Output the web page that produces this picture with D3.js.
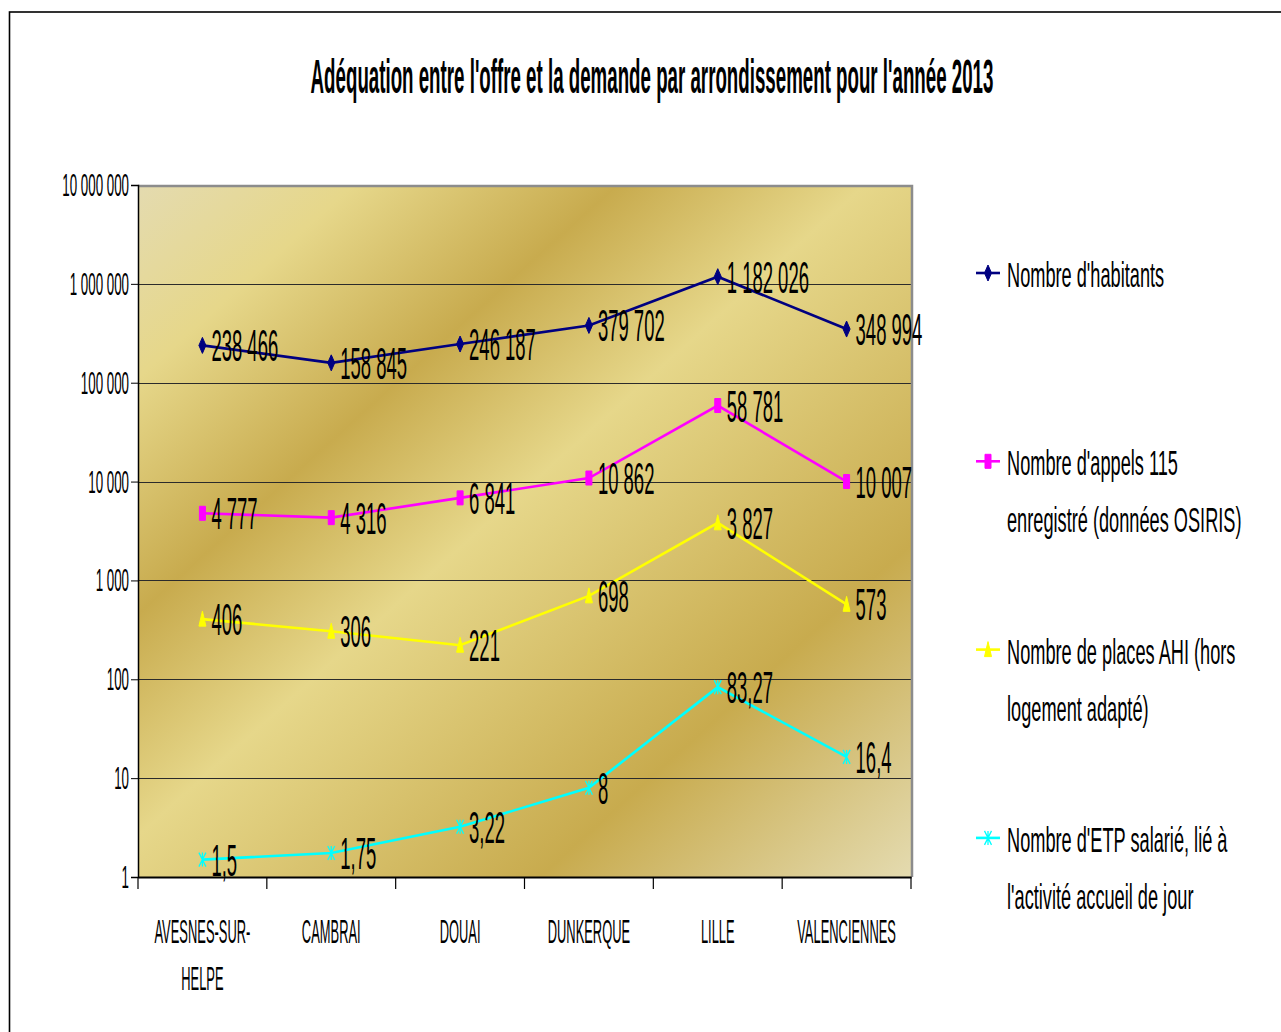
<!DOCTYPE html>
<html>
<head>
<meta charset="utf-8">
<script src="https://cdnjs.cloudflare.com/ajax/libs/d3/7.8.5/d3.min.js"></script>
<style>
  body { margin: 0; background: #fff; }
  text { font-family: "Liberation Sans", Arial, sans-serif; fill: #000; }
</style>
</head>
<body>
<div id="chart"></div>
<script>
// data
var categories = ["AVESNES-SUR-|HELPE", "CAMBRAI", "DOUAI", "DUNKERQUE", "LILLE", "VALENCIENNES"];
var habitants = [238466, 158845, 246187, 379702, 1182026, 348994];
var appels115 = [4777, 4316, 6841, 10862, 58781, 10007];
var placesAHI = [406, 306, 221, 698, 3827, 573];
var etpSalarie = [1.5, 1.75, 3.22, 8, 83.27, 16.4];
var seriesNames = [
  ["Nombre d'habitants"],
  ["Nombre d'appels 115", "enregistré (données OSIRIS)"],
  ["Nombre de places AHI (hors", "logement adapté)"],
  ["Nombre d'ETP salarié, lié à", "l'activité accueil de jour"]
];
var yTicks = [1, 10, 100, 1000, 10000, 100000, 1000000, 10000000];
var title = "Adéquation entre l'offre et la demande par arrondissement pour l'année 2013";

var series = [
  { name: seriesNames[0], values: habitants, color: "#000080", marker: "diamond" },
  { name: seriesNames[1], values: appels115, color: "#ff00ff", marker: "square" },
  { name: seriesNames[2], values: placesAHI, color: "#ffff00", marker: "triangle" },
  { name: seriesNames[3], values: etpSalarie, color: "#00ffff", marker: "star" }
];

var W = 1281, H = 1032;
var plot = { left: 138, top: 185, right: 911, bottom: 877 };

var fr = d3.formatLocale({ decimal: ",", thousands: " ", grouping: [3], currency: ["", " €"] });
var fmt = fr.format(",");

var svg = d3.select("#chart").append("svg")
    .attr("width", W)
    .attr("height", H);

// gold fill like the old excel preset
var defs = svg.append("defs");
var grad = defs.append("linearGradient")
    .attr("id", "gold")
    .attr("x1", 0).attr("y1", 0).attr("x2", 1).attr("y2", 1);
[[0, "#e4dbb0"], [0.14, "#e6d78a"], [0.31, "#c8ab4e"], [0.47, "#e6d78a"], [0.76, "#c8ab4e"], [1, "#e4dbb0"]]
  .forEach(function(s) {
    grad.append("stop").attr("offset", s[0]).attr("stop-color", s[1]);
  });

// outer frame
svg.append("rect")
    .attr("x", 9.5).attr("y", 12)
    .attr("width", W + 20).attr("height", H + 20)
    .attr("fill", "none")
    .attr("stroke", "#000")
    .attr("stroke-width", 1.6);

// squeezed text helper (the original fonts are very narrow)
function squeezed(g, x, y, str, size, sx, anchor, weight) {
  return g.append("text")
      .attr("transform", "translate(" + x + "," + y + ") scale(" + sx + ",1)")
      .attr("text-anchor", anchor || "start")
      .attr("font-size", size)
      .attr("font-weight", weight || "normal")
      .text(str);
}

squeezed(svg, 652, 93, title, 48, 0.39, "middle", "bold");

var x = d3.scaleBand()
    .domain(categories)
    .range([plot.left, plot.right]);
var y = d3.scaleLog()
    .domain([1, 1e7])
    .range([plot.bottom, plot.top]);

svg.append("rect")
    .attr("x", plot.left).attr("y", plot.top)
    .attr("width", plot.right - plot.left)
    .attr("height", plot.bottom - plot.top)
    .attr("fill", "url(#gold)");

// gridlines
svg.append("g")
    .selectAll("line")
    .data(yTicks.slice(1, -1))
  .enter().append("line")
    .attr("x1", plot.left).attr("x2", plot.right)
    .attr("y1", function(d) { return Math.round(y(d)) + 0.5; })
    .attr("y2", function(d) { return Math.round(y(d)) + 0.5; })
    .attr("stroke", "#2b2b2b")
    .attr("stroke-width", 1.2);

// plot border top/right (grey)
svg.append("path")
    .attr("d", "M" + plot.left + "," + (plot.top + 1) + "H" + (plot.right + 1) + "V" + plot.bottom)
    .attr("fill", "none")
    .attr("stroke", "#8c8c8c")
    .attr("stroke-width", 2.5);

// y axis
var yAxis = svg.append("g")
    .attr("transform", "translate(" + plot.left + ",0)")
    .call(d3.axisLeft(y).tickValues(yTicks).tickSize(7).tickFormat(""));
yAxis.select(".domain").attr("stroke", "#000").attr("stroke-width", 1.5);
yAxis.selectAll(".tick line").attr("stroke", "#000");
yTicks.forEach(function(t) {
  squeezed(svg, 129, y(t) + 11, fmt(t), 31, 0.43, "end");
});

// x axis
var xAxis = svg.append("g")
    .attr("transform", "translate(0," + plot.bottom + ")")
    .call(d3.axisBottom(x).tickSize(0).tickFormat(""));
xAxis.select(".domain").attr("stroke", "#000").attr("stroke-width", 2);
svg.append("g")
    .selectAll("line")
    .data(categories.concat([null]))
  .enter().append("line")
    .attr("x1", function(d) { return d === null ? plot.right : x(d); })
    .attr("x2", function(d) { return d === null ? plot.right : x(d); })
    .attr("y1", plot.bottom)
    .attr("y2", plot.bottom + 12)
    .attr("stroke", "#000")
    .attr("stroke-width", 1.2);
categories.forEach(function(c) {
  var cx = x(c) + x.bandwidth() / 2;
  c.split("|").forEach(function(line, i) {
    squeezed(svg, cx, 943 + i * 47, line, 34, 0.38, "middle");
  });
});

// markers
function markerPath(type) {
  if (type === "diamond") return "M0,-8L3.5,0L0,8L-3.5,0Z";
  if (type === "square") return "M-3,-7H3V7H-3Z";
  if (type === "triangle") return "M0,-8L3.5,7H-3.5Z";
  return "M-3.5,-7L3.5,7M3.5,-7L-3.5,7M0,-7V7";
}
function drawMarker(g, type, color, px, py) {
  var star = type === "star";
  g.append("path")
      .attr("transform", "translate(" + px + "," + py + ")")
      .attr("d", markerPath(type))
      .attr("fill", star ? "none" : color)
      .attr("stroke", color)
      .attr("stroke-width", star ? 1.3 : 1);
}

var line = d3.line()
    .x(function(d, i) { return x(categories[i]) + x.bandwidth() / 2; })
    .y(function(d) { return y(d); });

series.forEach(function(s) {
  var g = svg.append("g");
  g.append("path")
      .datum(s.values)
      .attr("d", line)
      .attr("fill", "none")
      .attr("stroke", s.color)
      .attr("stroke-width", 2.6);
  s.values.forEach(function(v, i) {
    var px = x(categories[i]) + x.bandwidth() / 2;
    drawMarker(g, s.marker, s.color, px, y(v));
  });
});

// data labels on top
series.forEach(function(s) {
  s.values.forEach(function(v, i) {
    var px = x(categories[i]) + x.bandwidth() / 2;
    squeezed(svg, px + 9, y(v) + 16, fmt(v), 44, 0.42, "start");
  });
});

// legend
var legend = svg.append("g");
series.forEach(function(s, i) {
  var ly = 273 + i * 188.3;
  legend.append("line")
      .attr("x1", 976).attr("x2", 1000)
      .attr("y1", ly).attr("y2", ly)
      .attr("stroke", s.color)
      .attr("stroke-width", 2.6);
  drawMarker(legend, s.marker, s.color, 988, ly);
  s.name.forEach(function(t, j) {
    squeezed(legend, 1007, ly + 14 + j * 57, t, 35, 0.52, "start");
  });
});
</script>
</body>
</html>
